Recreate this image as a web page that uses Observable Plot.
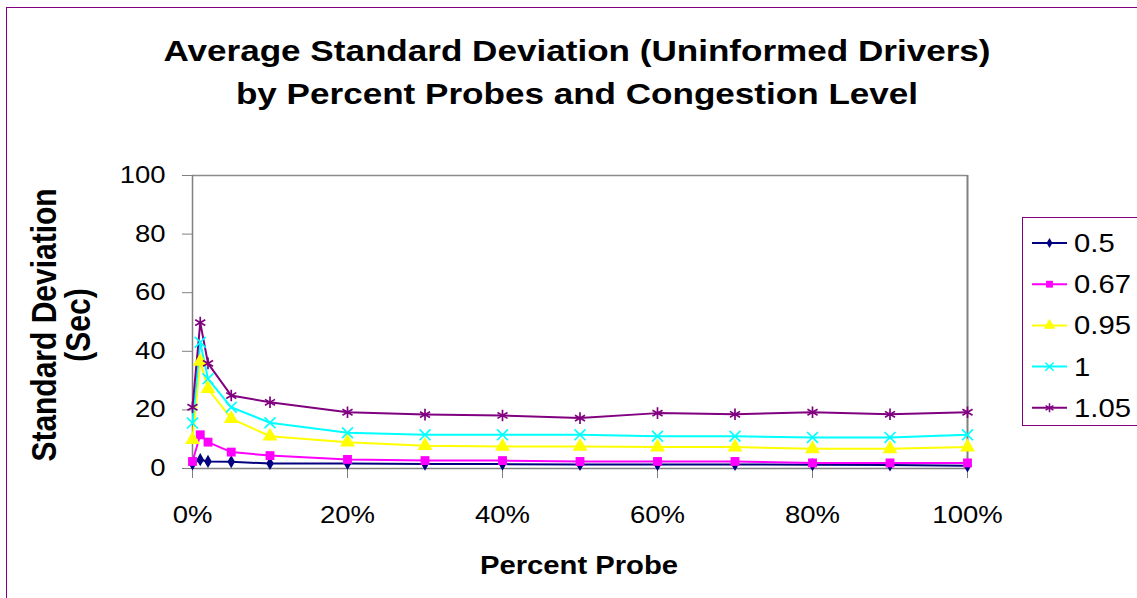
<!DOCTYPE html>
<html><head><meta charset="utf-8">
<script src="https://cdn.jsdelivr.net/npm/d3@7"></script>
<script src="https://cdn.jsdelivr.net/npm/@observablehq/plot@0.6"></script>
<style>
html,body{margin:0;padding:0;background:#fff;width:1137px;height:598px;overflow:hidden;}
body{position:relative;font-family:Arial,'Liberation Sans',sans-serif;}
#frame{position:absolute;left:6px;top:7px;width:1200px;height:700px;border:1.5px solid #800080;box-sizing:border-box;}
#chart{position:absolute;left:0;top:0;}
#overlay{position:absolute;left:0;top:0;pointer-events:none;}
#legend{position:absolute;left:1022px;top:217px;width:140px;height:209px;border:1.5px solid #800080;box-sizing:border-box;background:#fff;}
</style></head><body>
<div id="frame"></div>
<div id="chart"></div>
<svg id="overlay" width="1137" height="598"></svg>
<div id="legend"></div>
<script>
// ---- Data ----
const percentProbe = [0, 1, 2, 5, 10, 20, 30, 40, 50, 60, 70, 80, 90, 100];
const congestionLevels = ["0.5", "0.67", "0.95", "1", "1.05"];
const sd_050 = [1.6, 3.0, 2.4, 2.3, 1.7, 1.7, 1.5, 1.5, 1.4, 1.4, 1.4, 1.3, 1.2, 0.9];
const sd_067 = [2.4, 11.5, 9.0, 5.6, 4.4, 3.1, 2.7, 2.7, 2.4, 2.4, 2.4, 1.9, 1.9, 1.9];
const sd_095 = [9.8, 36.5, 27.2, 17.0, 11.0, 9.0, 7.8, 7.5, 7.5, 7.3, 7.3, 6.7, 6.7, 7.3];
const sd_100 = [15.5, 43.1, 30.6, 20.9, 15.6, 12.2, 11.5, 11.5, 11.5, 11.0, 11.0, 10.6, 10.6, 11.5];
const sd_105 = [20.9, 49.8, 35.9, 24.9, 22.6, 19.2, 18.4, 18.1, 17.2, 18.9, 18.5, 19.2, 18.5, 19.2];
const seriesValues = [sd_050, sd_067, sd_095, sd_100, sd_105];
const xTicks = [0, 20, 40, 60, 80, 100];
const yTicks = [0, 20, 40, 60, 80, 100];
const titleLines = ["Average Standard Deviation (Uninformed Drivers)", "by Percent Probes and Congestion Level"];
const yTitleLines = ["Standard Deviation", "(Sec)"];
const xTitle = "Percent Probe";

// ---- Styles ----
const colors = ["#000080", "#FF00FF", "#FFFF00", "#00FFFF", "#800080"];
const symbols = ["diamond", "square", "triangle", "times", "asterisk"];
const filled = [true, true, true, false, false];
const radii = [4.0, 5.0, 5.5, 5.0, 5.5];
const FONT = "Arial, 'Liberation Sans', sans-serif";
const STRETCH = 1.17;

const rows = [];
congestionLevels.forEach((lvl, si) => {
  percentProbe.forEach((p, i) => rows.push({level: lvl, si, pct: p, sd: seriesValues[si][i]}));
});

const marks = [
  Plot.ruleY([100], {stroke: "#8c8c8c", strokeWidth: 1.5}),
  Plot.ruleX([100], {stroke: "#808080", strokeWidth: 2}),
  Plot.ruleY([0], {stroke: "#808080", strokeWidth: 1.5}),
  Plot.ruleX([0], {stroke: "#808080", strokeWidth: 1.5}),
  Plot.axisX({ticks: xTicks, tickSize: 10, tickPadding: 28, tickFormat: d => d + "%", stroke: "#808080", fill: "black", label: null}),
  Plot.axisY({ticks: yTicks, tickSize: 10, tickPadding: 17, stroke: "#808080", fill: "black", label: null})
];
congestionLevels.forEach((lvl, si) => {
  const d = rows.filter(r => r.si === si);
  marks.push(Plot.line(d, {x: "pct", y: "sd", stroke: colors[si], strokeWidth: 2}));
});
congestionLevels.forEach((lvl, si) => {
  const d = rows.filter(r => r.si === si);
  const opts = {x: "pct", y: "sd", symbol: symbols[si], r: radii[si]};
  if (filled[si]) { opts.fill = colors[si]; opts.stroke = "none"; }
  else { opts.fill = "none"; opts.stroke = colors[si]; opts.strokeWidth = 1.7; }
  marks.push(Plot.dot(d, opts));
});

const chart = Plot.plot({
  width: 1137, height: 598,
  marginLeft: 192, marginRight: 170, marginTop: 175, marginBottom: 130,
  x: {domain: [0, 100]},
  y: {domain: [0, 100]},
  style: {fontFamily: FONT, fontSize: "23.5px", background: "transparent", color: "black"},
  marks
});
chart.querySelectorAll('g[aria-label$="tick label"] text').forEach(t => {
  const tr = t.getAttribute("transform") || "";
  t.setAttribute("transform", tr + ` scale(${STRETCH},1)`);
});
document.getElementById("chart").appendChild(chart);

// ---- Titles ----
const ov = d3.select("#overlay").style("font-family", FONT);
titleLines.forEach((txt, i) => {
  ov.append("text").attr("transform", `translate(577,${61 + i * 43}) scale(${STRETCH},1)`)
    .attr("text-anchor", "middle").attr("font-size", 30).attr("font-weight", "bold").text(txt);
});
ov.append("text").attr("transform", `translate(579,574) scale(${STRETCH},1)`)
  .attr("text-anchor", "middle").attr("font-size", 25).attr("font-weight", "bold").text(xTitle);
yTitleLines.forEach((txt, i) => {
  ov.append("text").attr("transform", `translate(${56 + i * 34},325) rotate(-90) scale(1,${STRETCH})`)
    .attr("text-anchor", "middle").attr("font-size", 30).attr("font-weight", "bold").text(txt);
});

// ---- Legend ----
const lg = d3.select("#legend").append("svg").attr("width", 140).attr("height", 206).style("font-family", FONT);
congestionLevels.forEach((lvl, si) => {
  const cy = 25 + si * 41.2;
  const g = lg.append("g");
  g.append("line").attr("x1", 9).attr("x2", 44).attr("y1", cy).attr("y2", cy).attr("stroke", colors[si]).attr("stroke-width", 2);
  const symType = {diamond: d3.symbolDiamond, square: d3.symbolSquare, triangle: d3.symbolTriangle, times: d3.symbolTimes, asterisk: d3.symbolAsterisk}[symbols[si]];
  const p = g.append("path").attr("transform", `translate(26.5,${cy})`).attr("d", d3.symbol(symType, Math.PI * radii[si] * radii[si] * 0.6)());
  if (filled[si]) p.attr("fill", colors[si]); else p.attr("fill", "none").attr("stroke", colors[si]).attr("stroke-width", 1.5);
  g.append("text").attr("transform", `translate(51,${cy + 9}) scale(${STRETCH},1)`).attr("font-size", 25).text(lvl);
});
</script>
</body></html>
